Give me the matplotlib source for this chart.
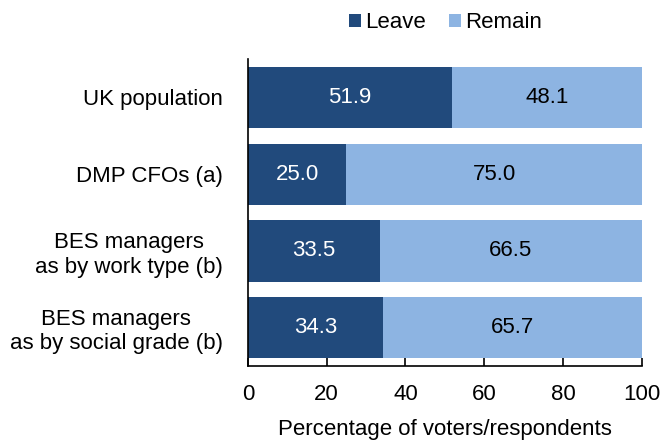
import matplotlib.pyplot as plt

plt.rcParams['font.family'] = ['Liberation Sans', 'DejaVu Sans']

categories = ["UK population", "DMP CFOs (a)", "BES managers\nas by work type (b)",
              "BES managers\nas by social grade (b)"]
leave = [51.9, 25.0, 33.5, 34.3]
remain = [48.1, 75.0, 66.5, 65.7]

LEAVE_COLOR = "#214A7C"
REMAIN_COLOR = "#8DB4E2"
FS = 16

fig = plt.figure(figsize=(6.61, 4.41), dpi=100)
ax = fig.add_axes([0.375, 0.170, 0.596, 0.696])

pos = range(len(categories))
b1 = ax.barh(pos, leave, height=0.8, color=LEAVE_COLOR, label="Leave")
b2 = ax.barh(pos, remain, left=leave, height=0.8, color=REMAIN_COLOR, label="Remain")

for i, (l, r) in enumerate(zip(leave, remain)):
    ax.text(l / 2, i, f"{l:.1f}", ha="center", va="center", color="white", fontsize=FS)
    ax.text(l + r / 2, i, f"{r:.1f}", ha="center", va="center", color="black", fontsize=FS)

ax.set_xlim(0, 100)
ax.set_ylim(3.5, -0.5)
ax.set_xticks(range(0, 101, 20))
ax.set_yticks(list(pos))
ax.set_yticklabels(categories, multialignment="center")
ax.tick_params(axis="y", length=0, pad=18, labelsize=FS)
ax.tick_params(axis="x", direction="in", length=6, width=1.2, pad=13, labelsize=FS)
ax.set_xlabel("Percentage of voters/respondents", fontsize=FS, labelpad=10)

for s in ["top", "right"]:
    ax.spines[s].set_visible(False)
ax.spines["left"].set_linewidth(1.2)
ax.spines["bottom"].set_linewidth(1.2)

fig.legend(handles=[b1, b2], loc="center", bbox_to_anchor=(0.674, 0.948), ncol=2,
           frameon=False, fontsize=FS, handlelength=0.55, handleheight=0.55,
           handletextpad=0.2, columnspacing=1.0)

fig.savefig("out.png", dpi=100)
